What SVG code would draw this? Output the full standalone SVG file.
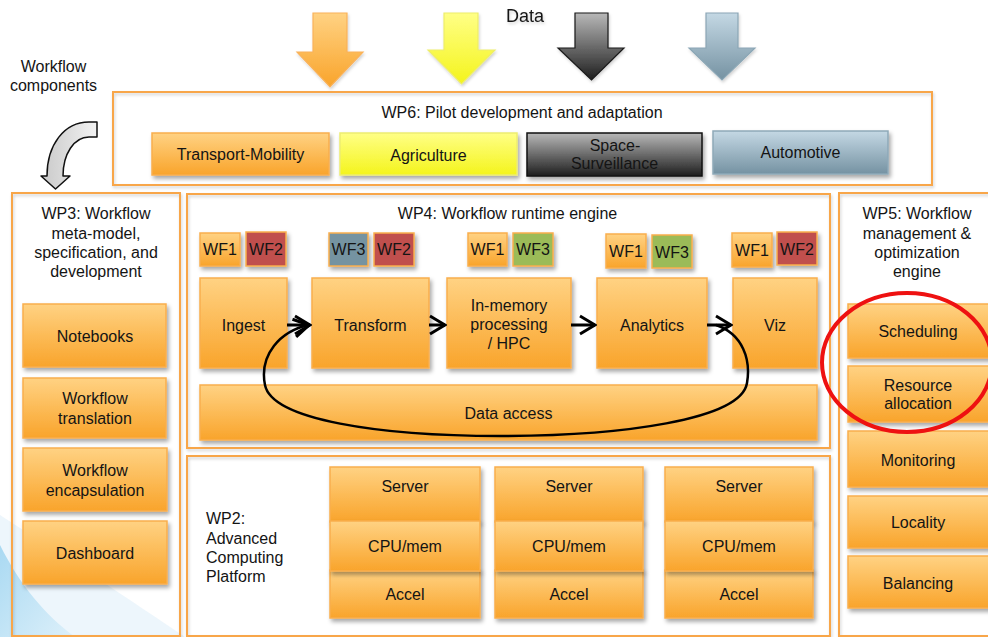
<svg xmlns="http://www.w3.org/2000/svg" width="988" height="637" viewBox="0 0 988 637">
  <defs>
    <style>
      .t { font-family: "Liberation Sans", Arial, Helvetica, sans-serif; font-size: 16px; fill: #141414; text-anchor: middle; }
      .tl { text-anchor: start; }
      .frame { fill: none; stroke: #F8A648; stroke-width: 2; }
      .ob { fill: url(#gOrange); stroke: #F9AE4E; stroke-width: 1.5; filter: url(#shadow); }
      .tag { stroke: #F9AE4E; stroke-width: 1.5; filter: url(#shadow); }
      .flow { fill: none; stroke: #000; stroke-width: 3; marker-end: url(#chev); }
      .loop { fill: none; stroke: #000; stroke-width: 2.5; marker-end: url(#chev); }
    </style>
    <linearGradient id="gOrange" x1="0" y1="0" x2="0" y2="1">
      <stop offset="0" stop-color="#FFD283"/>
      <stop offset="1" stop-color="#F9A42B"/>
    </linearGradient>
    <linearGradient id="gYellow" x1="0" y1="0" x2="0" y2="1">
      <stop offset="0" stop-color="#FFFF86"/>
      <stop offset="1" stop-color="#F4F41C"/>
    </linearGradient>
    <linearGradient id="gDark" x1="0" y1="0" x2="0" y2="1">
      <stop offset="0" stop-color="#B8B8B8"/>
      <stop offset="1" stop-color="#1E1E1E"/>
    </linearGradient>
    <linearGradient id="gSteel" x1="0" y1="0" x2="0" y2="1">
      <stop offset="0" stop-color="#C4D8E4"/>
      <stop offset="1" stop-color="#7592A2"/>
    </linearGradient>
    <linearGradient id="gGrey" x1="0" y1="0" x2="1" y2="0">
      <stop offset="0" stop-color="#C9C9C9"/>
      <stop offset="1" stop-color="#F2F2F2"/>
    </linearGradient>
    <linearGradient id="gSky" x1="0" y1="0" x2="1" y2="1">
      <stop offset="0" stop-color="#A9D9F2"/>
      <stop offset="1" stop-color="#DDF0FA"/>
    </linearGradient>
    <filter id="shadow" x="-10%" y="-10%" width="130%" height="140%">
      <feDropShadow dx="2" dy="3" stdDeviation="2" flood-color="#000" flood-opacity="0.35"/>
    </filter>
    <filter id="softShadow" x="-5%" y="-5%" width="110%" height="115%">
      <feDropShadow dx="1" dy="2" stdDeviation="1.5" flood-color="#000" flood-opacity="0.18"/>
    </filter>
    <marker id="chev" viewBox="-20 -12 22 24" refX="0" refY="0" markerWidth="22" markerHeight="24" markerUnits="userSpaceOnUse" orient="auto">
      <path d="M-15,-9 L0,0 L-15,9" fill="none" stroke="#000" stroke-width="3"/>
    </marker>
  </defs>

  <rect width="988" height="637" fill="#FFFFFF"/>

  <!-- pale blue backdrop sweep, lower left -->
  <g id="backdrop">
    <path d="M0,515 C70,560 130,600 185,637 L0,637 Z" fill="#EDF6FC"/>
    <path d="M0,545 C20,585 45,615 75,637 L0,637 Z" fill="url(#gSky)"/>
  </g>

  <!-- incoming data arrows -->
  <g id="data-arrows" filter="url(#softShadow)">
    <text class="t" x="525" y="22" style="font-size:18px">Data</text>
    <path d="M313,13 H347 V52 H363 L330,87 L297,52 H313 Z" fill="url(#gOrange)" stroke="#F9B25A" stroke-width="1.2"/>
    <path d="M444,13 H478 V50 H495 L461.5,84 L428,50 H444 Z" fill="url(#gYellow)" stroke="#EDED6A" stroke-width="1.2"/>
    <path d="M575,13 H608 V48 H624 L591.5,80 L558,48 H575 Z" fill="url(#gDark)" stroke="#1A1A1A" stroke-width="1.2"/>
    <path d="M706,13 H738 V48 H755 L722,80 L689,48 H706 Z" fill="url(#gSteel)" stroke="#8BA6B5" stroke-width="1.2"/>
  </g>

  <!-- workflow components label and bent arrow -->
  <g id="workflow-components">
    <text class="t" x="53.5" y="72">Workflow</text>
    <text class="t" x="53.5" y="91">components</text>
    <path d="M97,122 L89,122 C64,122 47,145 47,176 L41,176 L55.5,189 L70,176 L63,176 C63,154 74,137 89,137 L97,137 Z" fill="url(#gGrey)" stroke="#111" stroke-width="1.5" stroke-linejoin="round"/>
  </g>

  <!-- WP6 -->
  <g id="wp6">
    <rect class="frame" x="113" y="92" width="819" height="93" filter="url(#softShadow)"/>
    <text class="t" x="522" y="118">WP6: Pilot development and adaptation</text>
  </g>
  <g id="pilot-transport">
    <rect class="ob" x="152" y="133" width="177" height="42"/>
    <text class="t" x="240.5" y="160">Transport-Mobility</text>
  </g>
  <g id="pilot-agriculture">
    <rect x="340" y="133" width="177" height="42" fill="url(#gYellow)" stroke="#EDED70" stroke-width="1.5" filter="url(#shadow)"/>
    <text class="t" x="428.5" y="161">Agriculture</text>
  </g>
  <g id="pilot-space">
    <rect x="527" y="133" width="175" height="43" fill="url(#gDark)" stroke="#111" stroke-width="1.5" filter="url(#shadow)"/>
    <text class="t" x="615" y="151">Space-</text>
    <text class="t" x="614.5" y="169">Surveillance</text>
  </g>
  <g id="pilot-automotive">
    <rect x="713" y="131" width="175" height="43" fill="url(#gSteel)" stroke="#8EA9B8" stroke-width="1.5" filter="url(#shadow)"/>
    <text class="t" x="800.5" y="158">Automotive</text>
  </g>

  <!-- WP3 -->
  <g id="wp3">
    <rect class="frame" x="12" y="193" width="168" height="443" filter="url(#softShadow)"/>
    <text class="t" x="96" y="219">WP3: Workflow</text>
    <text class="t" x="96" y="238.5">meta-model,</text>
    <text class="t" x="96" y="258">specification, and</text>
    <text class="t" x="96" y="277">development</text>
  </g>
  <g id="wp3-notebooks">
    <rect class="ob" x="23" y="304" width="143" height="63"/>
    <text class="t" x="95" y="341.5">Notebooks</text>
  </g>
  <g id="wp3-translation">
    <rect class="ob" x="23" y="378" width="143" height="60"/>
    <text class="t" x="95" y="403.5">Workflow</text>
    <text class="t" x="95" y="423.5">translation</text>
  </g>
  <g id="wp3-encapsulation">
    <rect class="ob" x="23" y="448" width="144" height="63"/>
    <text class="t" x="95" y="475.5">Workflow</text>
    <text class="t" x="95" y="495.5">encapsulation</text>
  </g>
  <g id="wp3-dashboard">
    <rect class="ob" x="23" y="521" width="144" height="63"/>
    <text class="t" x="95" y="558.5">Dashboard</text>
  </g>

  <!-- WP4 -->
  <g id="wp4">
    <rect class="frame" x="187" y="194" width="643" height="254" filter="url(#softShadow)"/>
    <text class="t" x="507.5" y="218.5">WP4: Workflow runtime engine</text>
  </g>

  <g id="stage-ingest">
    <rect class="tag" x="200" y="233" width="40" height="33" fill="url(#gOrange)"/>
    <text class="t" x="220" y="255">WF1</text>
    <rect class="tag" x="246" y="232" width="40" height="34" fill="#C0504D"/>
    <text class="t" x="266" y="255">WF2</text>
    <rect class="ob" x="200" y="278" width="87" height="90"/>
    <text class="t" x="243.5" y="331">Ingest</text>
  </g>
  <g id="stage-transform">
    <rect class="tag" x="329" y="233" width="39" height="33" fill="#7493A1"/>
    <text class="t" x="348.5" y="255">WF3</text>
    <rect class="tag" x="374" y="233" width="40" height="33" fill="#C0504D"/>
    <text class="t" x="394" y="255">WF2</text>
    <rect class="ob" x="312" y="278" width="117" height="90"/>
    <text class="t" x="370.5" y="331">Transform</text>
  </g>
  <g id="stage-inmemory">
    <rect class="tag" x="468" y="233" width="39" height="33" fill="url(#gOrange)"/>
    <text class="t" x="487.5" y="255">WF1</text>
    <rect class="tag" x="513" y="233" width="40" height="33" fill="#9BBB59"/>
    <text class="t" x="533" y="255">WF3</text>
    <rect class="ob" x="447" y="278" width="124" height="90"/>
    <text class="t" x="509" y="310.5">In-memory</text>
    <text class="t" x="509" y="330">processing</text>
    <text class="t" x="509" y="349">/ HPC</text>
  </g>
  <g id="stage-analytics">
    <rect class="tag" x="606" y="234" width="40" height="34" fill="url(#gOrange)"/>
    <text class="t" x="626" y="257">WF1</text>
    <rect class="tag" x="652" y="235" width="40" height="33" fill="#9BBB59"/>
    <text class="t" x="672" y="257.5">WF3</text>
    <rect class="ob" x="597" y="278" width="110" height="90"/>
    <text class="t" x="652" y="331">Analytics</text>
  </g>
  <g id="stage-viz">
    <rect class="tag" x="732" y="233" width="40" height="34" fill="url(#gOrange)"/>
    <text class="t" x="752" y="256">WF1</text>
    <rect class="tag" x="777" y="232" width="40" height="33" fill="#C0504D"/>
    <text class="t" x="797" y="254.5">WF2</text>
    <rect class="ob" x="733" y="278" width="84" height="90"/>
    <text class="t" x="775" y="331">Viz</text>
  </g>
  <g id="data-access">
    <rect class="ob" x="200" y="385" width="617" height="55"/>
    <text class="t" x="508.5" y="418.5">Data access</text>
  </g>

  <!-- pipeline connectors -->
  <g id="connectors">
    <line class="flow" x1="287" y1="325" x2="310" y2="325"/>
    <line class="flow" x1="429" y1="325" x2="445" y2="325"/>
    <line class="flow" x1="571" y1="325" x2="595" y2="325"/>
    <line class="flow" x1="707" y1="325" x2="731" y2="325"/>
    <path class="loop" d="M716,325 C743,334 751,360 747,383 C741,420 620,436 500,436 C380,436 272,420 265,385 C259,355 280,331 309,325"/>
  </g>

  <!-- WP2 -->
  <g id="wp2">
    <rect class="frame" x="187" y="456" width="643" height="180" filter="url(#softShadow)"/>
    <text class="t tl" x="206" y="524">WP2:</text>
    <text class="t tl" x="206" y="543.5">Advanced</text>
    <text class="t tl" x="206" y="563">Computing</text>
    <text class="t tl" x="206" y="582">Platform</text>
  </g>
  <g id="server-1">
    <rect class="ob" x="330" y="467" width="150" height="55"/>
    <rect class="ob" x="330" y="570" width="150" height="48"/>
    <rect class="ob" x="330" y="521" width="150" height="50"/>
    <text class="t" x="405" y="492">Server</text>
    <text class="t" x="405" y="552">CPU/mem</text>
    <text class="t" x="405" y="600">Accel</text>
  </g>
  <g id="server-2">
    <rect class="ob" x="495" y="467" width="148" height="55"/>
    <rect class="ob" x="495" y="570" width="148" height="48"/>
    <rect class="ob" x="495" y="521" width="148" height="50"/>
    <text class="t" x="569" y="492">Server</text>
    <text class="t" x="569" y="552">CPU/mem</text>
    <text class="t" x="569" y="600">Accel</text>
  </g>
  <g id="server-3">
    <rect class="ob" x="665" y="467" width="148" height="55"/>
    <rect class="ob" x="665" y="570" width="148" height="48"/>
    <rect class="ob" x="665" y="521" width="148" height="50"/>
    <text class="t" x="739" y="492">Server</text>
    <text class="t" x="739" y="552">CPU/mem</text>
    <text class="t" x="739" y="600">Accel</text>
  </g>

  <!-- WP5 -->
  <g id="wp5">
    <rect class="frame" x="839" y="193" width="160" height="443" filter="url(#softShadow)"/>
    <text class="t" x="917" y="219">WP5: Workflow</text>
    <text class="t" x="917" y="238.5">management &amp;</text>
    <text class="t" x="917" y="258">optimization</text>
    <text class="t" x="917" y="277">engine</text>
  </g>
  <g id="wp5-scheduling">
    <rect class="ob" x="848" y="304" width="150" height="54"/>
    <text class="t" x="918" y="337">Scheduling</text>
  </g>
  <g id="wp5-resource">
    <rect class="ob" x="848" y="366" width="150" height="56"/>
    <text class="t" x="918" y="390.5">Resource</text>
    <text class="t" x="918" y="409">allocation</text>
  </g>
  <g id="wp5-monitoring">
    <rect class="ob" x="848" y="431" width="150" height="56"/>
    <text class="t" x="918" y="465.5">Monitoring</text>
  </g>
  <g id="wp5-locality">
    <rect class="ob" x="848" y="496" width="150" height="52"/>
    <text class="t" x="918" y="528">Locality</text>
  </g>
  <g id="wp5-balancing">
    <rect class="ob" x="848" y="556" width="150" height="52"/>
    <text class="t" x="918" y="588.5">Balancing</text>
  </g>

  <!-- highlight ring around scheduling and resource allocation -->
  <ellipse id="highlight" cx="907" cy="362.5" rx="85" ry="69.5" fill="none" stroke="#EE1111" stroke-width="4"/>
</svg>
